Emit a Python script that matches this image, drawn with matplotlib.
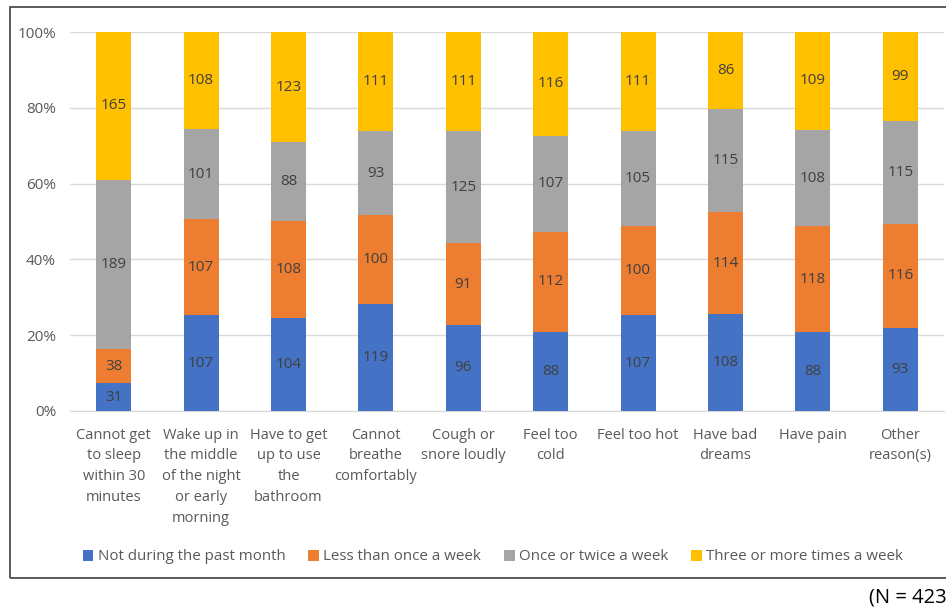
import matplotlib.pyplot as plt
from matplotlib.patches import Rectangle
import numpy as np

plt.rcParams['font.family'] = ['Open Sans', 'DejaVu Sans']

categories = ['Cannot get\nto sleep\nwithin 30\nminutes',
              'Wake up in\nthe middle\nof the night\nor early\nmorning',
              'Have to get\nup to use\nthe\nbathroom',
              'Cannot\nbreathe\ncomfortably',
              'Cough or\nsnore loudly',
              'Feel too\ncold',
              'Feel too hot',
              'Have bad\ndreams',
              'Have pain',
              'Other\nreason(s)']

not_past_month = [31, 107, 104, 119, 96, 88, 107, 108, 88, 93]
less_once_week = [38, 107, 108, 100, 91, 112, 100, 114, 118, 116]
once_twice_week = [189, 101, 88, 93, 125, 107, 105, 115, 108, 115]
three_more_week = [165, 108, 123, 111, 111, 116, 111, 86, 109, 99]

series_names = ['Not during the past month', 'Less than once a week',
                'Once or twice a week', 'Three or more times a week']
colors = ['#4472C4', '#ED7D31', '#A5A5A5', '#FFC000']

data = np.array([not_past_month, less_once_week, once_twice_week, three_more_week], dtype=float)
totals = data.sum(axis=0)
pct = data / totals * 100

fig = plt.figure(figsize=(9.46, 6.09), dpi=100)
ax = fig.add_axes([70 / 946, 1 - 411 / 609, (944 - 70) / 946, (411 - 32) / 609])

x = np.arange(len(categories))
bottom = np.zeros(len(categories))
for i in range(4):
    ax.bar(x, pct[i], 0.4, bottom=bottom, color=colors[i], label=series_names[i], zorder=3)
    for j in range(len(categories)):
        ax.text(x[j], bottom[j] + pct[i][j] / 2, str(int(data[i][j])),
                ha='center', va='center', fontsize=11, color='#404040', zorder=4)
    bottom += pct[i]

ax.set_xlim(-0.5, len(categories) - 0.5)
ax.set_ylim(0, 100)
ax.set_yticks(range(0, 101, 20))
ax.set_yticklabels([f'{v}%' for v in range(0, 101, 20)], fontsize=11, color='#595959')
ax.set_xticks(x)
ax.set_xticklabels(categories, fontsize=10.5, color='#595959', linespacing=1.52, va='top')
ax.tick_params(axis='both', length=0)
ax.tick_params(axis='x', pad=12)
ax.tick_params(axis='y', pad=10)
ax.grid(axis='y', color='#D9D9D9', linewidth=1, zorder=0)
for s in ['top', 'right', 'left']:
    ax.spines[s].set_visible(False)
ax.spines['bottom'].set_color('#D9D9D9')

ax.legend(loc='center', bbox_to_anchor=(493 / 946, 1 - 557 / 609), bbox_transform=fig.transFigure,
          ncol=4, frameon=False, fontsize=10.9, handlelength=0.7, handleheight=0.7,
          handletextpad=0.3, columnspacing=1.5, labelcolor='#595959')

fig.patches.append(Rectangle((10 / 946, 1 - 578 / 609), 1.0, (578 - 7) / 609,
                             transform=fig.transFigure, fill=False, edgecolor='#404040',
                             linewidth=1.2, clip_on=False))
fig.text(869 / 946, 1 - 598 / 609, '(N = 423)', fontsize=14.5, color='black', va='center')

fig.savefig('out.png', dpi=100)
